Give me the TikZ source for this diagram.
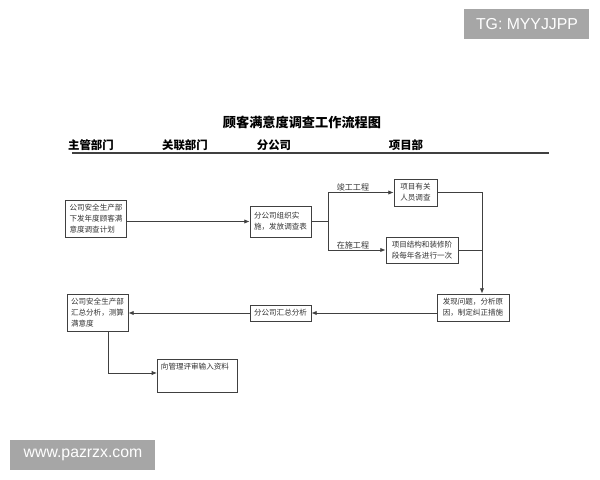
\documentclass[tikz,border=0pt]{standalone}
\usepackage{fontspec}
\newfontfamily\cjk{Noto Sans CJK SC}
\usetikzlibrary{arrows.meta}
\begin{document}
\begin{tikzpicture}[x=0.02cm,y=-0.02cm,
  sz/.style 2 args={minimum width=#1*0.02cm,minimum height=#2*0.02cm},
  box/.style={draw=black!75,line width=0.5pt,inner sep=1pt,font=\cjk\fontsize{4.3}{6.2}\selectfont,align=left,text=black!80},
  conn/.style={draw=black!75,line width=0.5pt},
  arr/.style={conn,-{Latex[length=3pt,width=2.5pt]}},
  hdr/.style={font=\cjk\bfseries\fontsize{6.5}{8}\selectfont},
  lab/.style={font=\cjk\fontsize{4.6}{6}\selectfont,text=black!80},
  wm/.style={fill=black!35,text=white,font=\fontspec{Liberation Sans}\fontsize{9}{11}\selectfont,inner sep=0pt}]
\useasboundingbox (0,0) rectangle (600,480);
\fill[white] (0,0) rectangle (600,480);
\node[wm,sz={125}{30}] (tg) at (527,24) {TG: MYYJJPP};
\node[wm,sz={145}{30}] (www) at (83,455) {www.pazrzx.com};
\node[hdr,font=\cjk\bfseries\fontsize{7.5}{9}\selectfont] (title) at (302,122) {顾客满意度调查工作流程图};
\node[hdr] (h1) at (91,145) {主管部门};
\node[hdr] (h2) at (185,145) {关联部门};
\node[hdr] (h3) at (274,145) {分公司};
\node[hdr] (h4) at (406,145) {项目部};
\coordinate (l1) at (72,153); \coordinate (l2) at (549,153);
\draw[line width=1.3pt,black!75] (l1) -- (l2);
\node[box,sz={61}{37}] (A) at (96,218.5) {公司安全生产部\\下发年度顾客满\\意度调查计划};
\node[box,sz={61}{31}] (B) at (280.5,221.5) {分公司组织实\\施，发放调查表};
\node[box,sz={43}{27}] (C) at (415.5,192.5) {项目有关\\人员调查};
\node[box,sz={72}{26}] (D) at (422,250) {项目结构和装修阶\\段每年各进行一次};
\node[box,sz={72}{27}] (E) at (473,307.5) {发现问题，分析原\\因，制定纠正措施};
\node[box,sz={61}{16}] (F) at (280.5,313) {分公司汇总分析};
\node[box,sz={61}{37}] (G) at (97.5,312.5) {公司安全生产部\\汇总分析，测算\\满意度};
\node[box,sz={78}{26},anchor=north west,text width=1.45cm,align=left,inner sep=2pt] (H) at (157,359) {向管理评审输入资料\\[5pt]\mbox{}};
\coordinate (br) at (328,221.5);
\coordinate (vr) at (482,192.5);
\coordinate (gd) at (108,340);
\draw[arr] (A.east |- B) -- (B.west);
\draw[conn] (B.east) -- (br);
\draw[arr] (br) |- (C.west);
\draw[arr] (br) |- (D.west);
\draw[conn] (C.east) -- (vr);
\draw[arr] (vr) -- (E.north -| vr);
\draw[conn] (D.east) -- (D.east -| vr);
\draw[arr] (E.west |- F) -- (F.east);
\draw[arr] (F.west) -- (G.east |- F);
\draw[arr] (G.south -| gd) |- ([yshift=0.06cm]H.west);
\node[lab] (t1) at (353,187) {竣工工程};
\node[lab] (t2) at (353,245) {在施工程};
\end{tikzpicture}
\end{document}
